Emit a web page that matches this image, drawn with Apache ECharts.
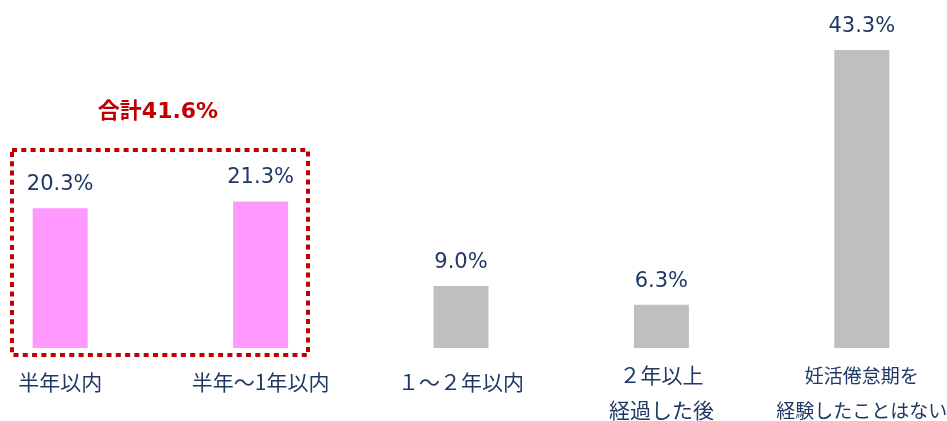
<!DOCTYPE html>
<html><head><meta charset="utf-8">
<script src="https://cdn.jsdelivr.net/npm/echarts@6/dist/echarts.min.js"></script>
<style>html,body{margin:0;padding:0;background:#fff}#c{width:947px;height:421px}</style>
</head><body><div id="c"></div>
<script>
const categories = ['半年以内', '半年～1年以内', '１～２年以内', '２年以上\n経過した後', '妊活倦怠期を\n経験したことはない'];
const values = [20.3, 21.3, 9.0, 6.3, 43.3];
const barColors = ['#FF99FF', '#FF99FF', '#BFBFBF', '#BFBFBF', '#BFBFBF'];
const totalLabel = '合計41.6%';

const chart = echarts.init(document.getElementById('c'));
const font = '"DejaVu Sans", "Noto Sans CJK JP", sans-serif';
const cjk = '"Noto Sans CJK JP", sans-serif';
chart.setOption({
  animation: false,
  grid: { left: -40, width: 1002, top: 4, bottom: 73, outerBoundsMode: 'none', containLabel: false },
  xAxis: {
    type: 'category',
    data: categories.map((c, i) => {
      if (c.indexOf('\n') < 0) return { value: c, textStyle: { padding: [7, 0, 0, 0] } };
      if (i === categories.length - 1) return { value: c, textStyle: { fontSize: 19 } };
      return c;
    }),
    axisLine: { show: false }, axisTick: { show: false },
    axisLabel: { color: '#203864', fontSize: 21, fontFamily: cjk, lineHeight: 35, margin: 10, verticalAlign: 'top', interval: 0 }
  },
  yAxis: { type: 'value', min: 0, max: 50, show: false, splitLine: { show: false } },
  series: [{
    type: 'bar', barWidth: 55,
    data: values.map((v, i) => ({ value: v, itemStyle: { color: barColors[i] } })),
    label: { show: true, position: 'top', distance: 13, color: '#203864', fontSize: 21, fontFamily: font,
      formatter: p => p.value.toFixed(1) + '%' }
  }],
  graphic: [
    { type: 'rect', shape: { x: 12, y: 150, width: 296, height: 205 },
      style: { fill: 'none', stroke: '#C00000', lineWidth: 4, lineDash: [5, 4.3] } },
    { type: 'text', x: 158, y: 112, style: { text: totalLabel, fill: '#C00000', font: 'bold 22px ' + font, textAlign: 'center', textVerticalAlign: 'middle' } }
  ]
});
</script></body></html>
